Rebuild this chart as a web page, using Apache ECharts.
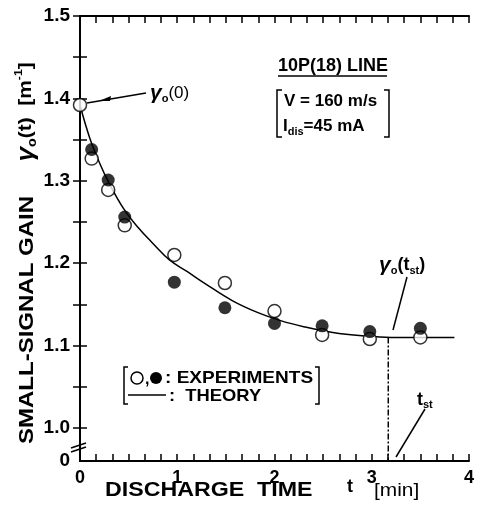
<!DOCTYPE html>
<html>
<head>
<meta charset="utf-8">
<script src="https://cdn.jsdelivr.net/npm/echarts@6/dist/echarts.min.js"></script>
<style>
html,body{margin:0;padding:0;background:#fff;}
#chart{width:477px;height:507px;}
</style>
</head>
<body>
<div id="chart"></div>
<script>
// discharge time t [min] and small-signal gain [1/m]
var openT = [0, 0.12, 0.29, 0.46, 0.97, 1.49, 2.0, 2.49, 2.98, 3.5];
var openG = [1.392, 1.327, 1.289, 1.246, 1.21, 1.176, 1.142, 1.113, 1.108, 1.11];
var fillT = [0.12, 0.29, 0.46, 0.97, 1.49, 2.0, 2.49, 2.98, 3.5];
var fillG = [1.338, 1.301, 1.256, 1.177, 1.146, 1.127, 1.124, 1.117, 1.121];
var theoryT = [0, 0.1, 0.2, 0.3, 0.45, 0.6, 0.75, 0.92, 1.1, 1.29, 1.56, 1.83, 2.07, 2.3, 2.6, 2.9, 3.2, 3.85];
var theoryG = [1.392, 1.352, 1.322, 1.297, 1.266, 1.243, 1.224, 1.204, 1.19, 1.175, 1.155, 1.14, 1.13, 1.123, 1.116, 1.112, 1.11, 1.11];
var tst = [3.17, 3.17];
var tstG = [1.11, 0.96];

var yLabels = [0.96, 1.0, 1.1, 1.2, 1.3, 1.4, 1.5];
var yTicks = [1.0, 1.05, 1.1, 1.15, 1.2, 1.25, 1.3, 1.35, 1.4, 1.45, 1.5];

var FONT = 'Liberation Sans, Arial, sans-serif';

function pairs(xs, ys) {
  return xs.map(function (x, i) { return [x, ys[i]]; });
}

var myChart = echarts.init(document.getElementById('chart'));

var lineStyle = { color: '#000', width: 2 };
var tickIn = { show: true, inside: true, length: 7, lineStyle: { color: '#000', width: 1.5 } };
var minorIn = { show: true, splitNumber: 6, length: 7, lineStyle: { color: '#000', width: 1.5 } };
var black = { stroke: '#000', lineWidth: 1.5 };

var option = {
  animation: false,
  backgroundColor: '#fff',
  grid: { left: 80, right: 4, top: 16, bottom: 46 },
  xAxis: [
    {
      type: 'value', min: 0, max: 4, interval: 1,
      axisLine: { lineStyle: lineStyle },
      axisTick: tickIn,
      minorTick: minorIn,
      splitLine: { show: false },
      axisLabel: { color: '#000', fontFamily: FONT, fontWeight: 'bold', fontSize: 18, margin: 8 }
    },
    {
      type: 'value', position: 'top', min: 0, max: 4, interval: 1,
      axisLine: { lineStyle: lineStyle },
      axisTick: tickIn,
      minorTick: minorIn,
      splitLine: { show: false },
      axisLabel: { show: false }
    }
  ],
  yAxis: [
    {
      type: 'value', min: 0.96, max: 1.5,
      axisLine: { lineStyle: lineStyle },
      axisTick: Object.assign({ customValues: yTicks }, tickIn),
      splitLine: { show: false },
      axisLabel: {
        customValues: yLabels,
        color: '#000', fontFamily: FONT, fontWeight: 'bold', fontSize: 19, margin: 10,
        formatter: function (v) { return v < 0.99 ? '0' : v.toFixed(1); }
      }
    },
    {
      type: 'value', position: 'right', min: 0.96, max: 1.5,
      axisLine: { lineStyle: lineStyle },
      axisTick: Object.assign({ customValues: yTicks }, tickIn),
      splitLine: { show: false },
      axisLabel: { show: false }
    }
  ],
  series: [
    {
      name: 'theory', type: 'line', smooth: 0.4, showSymbol: false, clip: false,
      lineStyle: { color: '#000', width: 1.5 },
      data: pairs(theoryT, theoryG), z: 2
    },
    {
      name: 'tst', type: 'line', showSymbol: false,
      lineStyle: { color: '#000', width: 1.5, type: [6, 2, 2, 2] },
      data: pairs(tst, tstG), z: 2
    },
    {
      name: 'open', type: 'scatter', symbol: 'circle', symbolSize: 13, clip: false,
      itemStyle: { color: '#fff', borderColor: '#000', borderWidth: 1.5 },
      data: pairs(openT, openG), z: 3
    },
    {
      name: 'filled', type: 'scatter', symbol: 'circle', symbolSize: 13,
      itemStyle: { color: '#000' },
      data: pairs(fillT, fillG), z: 4
    }
  ],
  graphic: [
    // y axis title
    {
      type: 'text', x: 27, y: 320, rotation: Math.PI / 2, scaleX: 1.2,
      style: { text: 'SMALL-SIGNAL GAIN', font: 'bold 20px ' + FONT, fill: '#000', align: 'center', verticalAlign: 'middle' }
    },
    {
      type: 'text', x: 26, y: 112, rotation: Math.PI / 2, scaleX: 1.1,
      style: {
        text: '{g|γ}{s|o}{n|(t)  [m}{p|-1}{n|]}',
        align: 'center', verticalAlign: 'middle',
        rich: {
          g: { font: 'italic bold 24px ' + FONT, fill: '#000', lineHeight: 26 },
          n: { font: 'bold 19px ' + FONT, fill: '#000', lineHeight: 26 },
          s: { font: 'bold 13px ' + FONT, fill: '#000', verticalAlign: 'bottom', lineHeight: 26, padding: [10, 0, 0, 0] },
          p: { font: 'bold 11px ' + FONT, fill: '#000', verticalAlign: 'top', lineHeight: 26 }
        }
      }
    },
    // x axis title
    {
      type: 'text', x: 105, y: 490, scaleX: 1.16,
      style: { text: 'DISCHARGE  TIME', font: 'bold 20px ' + FONT, fill: '#000', verticalAlign: 'middle' }
    },
    {
      type: 'text', x: 347, y: 487,
      style: { text: 't', font: 'bold 18px ' + FONT, fill: '#000', verticalAlign: 'middle' }
    },
    {
      type: 'text', x: 374, y: 491, scaleX: 1.1,
      style: { text: '[min]', font: '19px ' + FONT, fill: '#000', verticalAlign: 'middle' }
    },
    // axis break
    { type: 'line', shape: { x1: 71, y1: 448, x2: 86, y2: 443 }, style: black },
    { type: 'line', shape: { x1: 71, y1: 452, x2: 86, y2: 447 }, style: black },
    // line label box
    {
      type: 'text', x: 278, y: 66,
      style: { text: '10P(18) LINE', font: 'bold 18px ' + FONT, fill: '#000', verticalAlign: 'middle' }
    },
    { type: 'line', shape: { x1: 278, y1: 76, x2: 387, y2: 76 }, style: black },
    { type: 'polyline', shape: { points: [[282, 90], [277, 90], [277, 137], [282, 137]] }, style: { stroke: '#000', lineWidth: 1.5, fill: null } },
    { type: 'polyline', shape: { points: [[384, 90], [389, 90], [389, 137], [384, 137]] }, style: { stroke: '#000', lineWidth: 1.5, fill: null } },
    {
      type: 'text', x: 284, y: 101,
      style: { text: 'V = 160 m/s', font: 'bold 17px ' + FONT, fill: '#000', verticalAlign: 'middle' }
    },
    {
      type: 'text', x: 283, y: 126,
      style: {
        text: '{n|I}{s|dis}{n|=45 mA}', verticalAlign: 'middle',
        rich: {
          n: { font: 'bold 17px ' + FONT, fill: '#000', lineHeight: 22 },
          s: { font: 'bold 11px ' + FONT, fill: '#000', verticalAlign: 'bottom', lineHeight: 22, padding: [10, 0, 0, 0] }
        }
      }
    },
    // gamma0(0) annotation
    {
      type: 'text', x: 150, y: 93,
      style: {
        text: '{g|γ}{s|o}{n|(0)}', verticalAlign: 'middle',
        rich: {
          g: { font: 'italic bold 21px ' + FONT, fill: '#000', lineHeight: 22 },
          n: { font: '17px ' + FONT, fill: '#000', lineHeight: 22 },
          s: { font: 'bold 11px ' + FONT, fill: '#000', verticalAlign: 'bottom', lineHeight: 22, padding: [10, 0, 0, 0] }
        }
      }
    },
    { type: 'line', shape: { x1: 146, y1: 93, x2: 87, y2: 103 }, style: black },
    { type: 'polygon', shape: { points: [[99, 101], [111, 96], [110, 101]] }, style: { fill: '#000' } },
    // gamma0(tst) annotation
    {
      type: 'text', x: 379, y: 265,
      style: {
        text: '{g|γ}{s|o}{n|(t}{s|st}{n|)}', verticalAlign: 'middle',
        rich: {
          g: { font: 'italic bold 21px ' + FONT, fill: '#000', lineHeight: 22 },
          n: { font: 'bold 18px ' + FONT, fill: '#000', lineHeight: 22 },
          s: { font: 'bold 11px ' + FONT, fill: '#000', verticalAlign: 'bottom', lineHeight: 22, padding: [10, 0, 0, 0] }
        }
      }
    },
    { type: 'line', shape: { x1: 407, y1: 277, x2: 393, y2: 330 }, style: black },
    // tst annotation
    {
      type: 'text', x: 417, y: 400,
      style: {
        text: '{n|t}{s|st}', verticalAlign: 'middle',
        rich: {
          n: { font: 'bold 18px ' + FONT, fill: '#000', lineHeight: 20 },
          s: { font: 'bold 11px ' + FONT, fill: '#000', verticalAlign: 'bottom', lineHeight: 20, padding: [9, 0, 0, 0] }
        }
      }
    },
    { type: 'line', shape: { x1: 425, y1: 409, x2: 396, y2: 457 }, style: black },
    // legend box
    { type: 'polyline', shape: { points: [[128, 367], [124, 367], [124, 404], [128, 404]] }, style: { stroke: '#000', lineWidth: 1.5, fill: null } },
    { type: 'polyline', shape: { points: [[315, 367], [319, 367], [319, 404], [315, 404]] }, style: { stroke: '#000', lineWidth: 1.5, fill: null } },
    { type: 'circle', shape: { cx: 137, cy: 378, r: 6 }, style: { fill: '#fff', stroke: '#000', lineWidth: 1.5 } },
    { type: 'text', x: 145, y: 380, style: { text: ',', font: 'bold 16px ' + FONT, fill: '#000', verticalAlign: 'middle' } },
    { type: 'circle', shape: { cx: 156, cy: 378, r: 6 }, style: { fill: '#000' } },
    {
      type: 'text', x: 165, y: 378, scaleX: 1.12,
      style: { text: ': EXPERIMENTS', font: 'bold 17px ' + FONT, fill: '#000', verticalAlign: 'middle' }
    },
    { type: 'line', shape: { x1: 128, y1: 395, x2: 166, y2: 395 }, style: black },
    {
      type: 'text', x: 169, y: 396, scaleX: 1.08,
      style: { text: ':  THEORY', font: 'bold 17px ' + FONT, fill: '#000', verticalAlign: 'middle' }
    }
  ]
};

option && myChart.setOption(option);
</script>
</body>
</html>
